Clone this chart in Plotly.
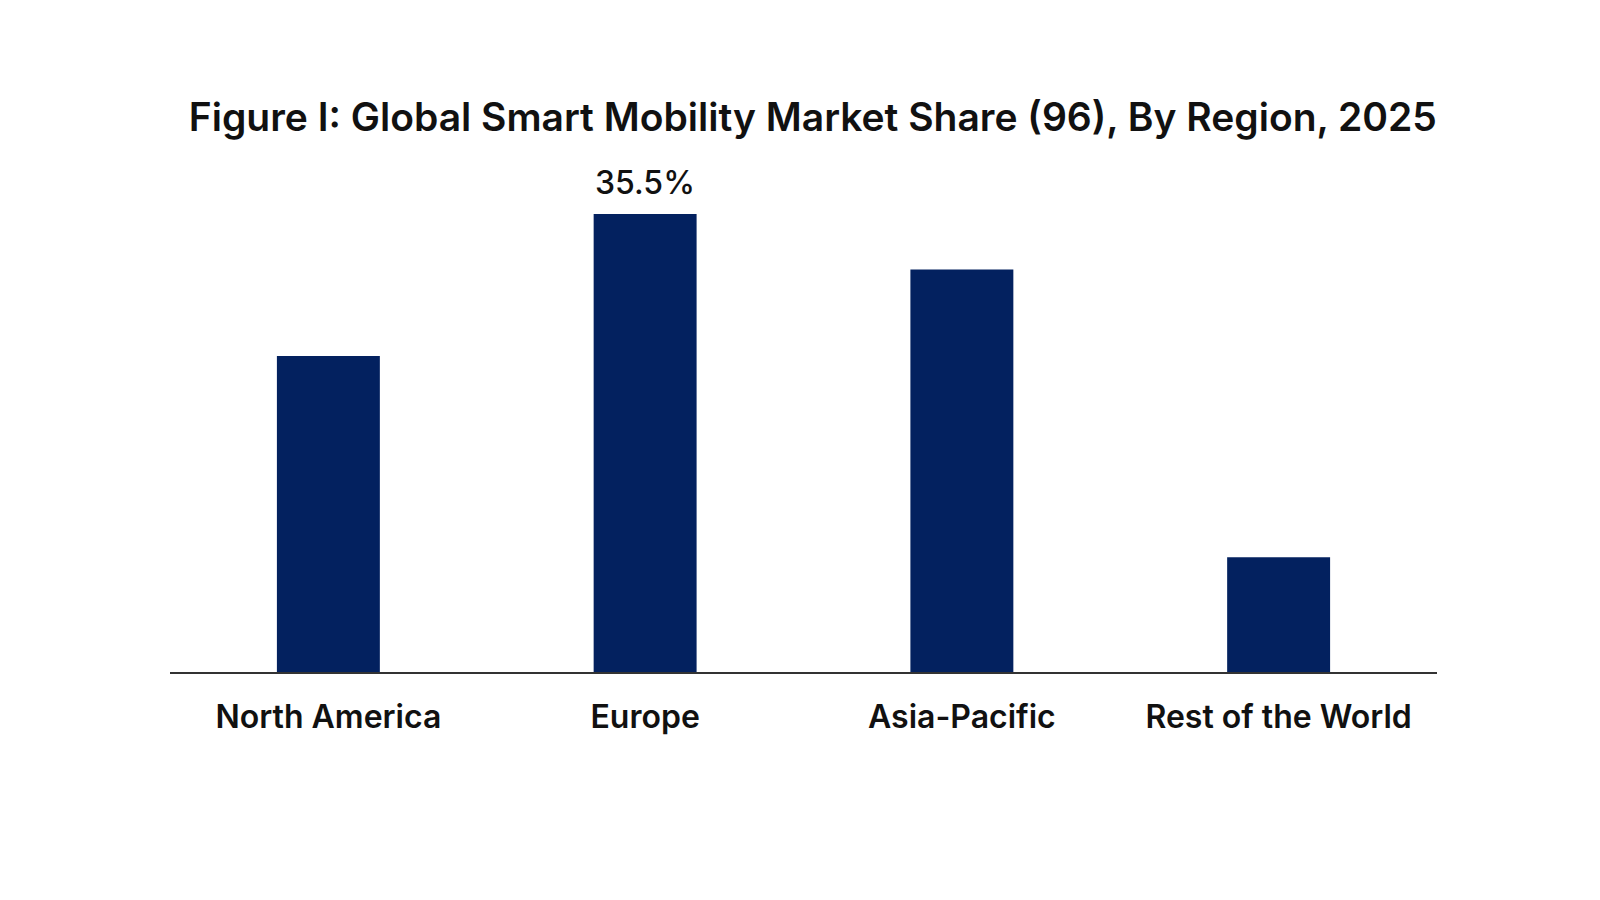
import plotly.graph_objects as go

regions = ['North America', 'Europe', 'Asia-Pacific', 'Rest of the World']
share = [24.5, 35.5, 31.2, 8.9]
labels = ['', '35.5%', '', '']

fig = go.Figure()
fig.add_trace(go.Bar(
        x = regions,
        y = share,
        marker = dict(color = '#03215F', line = dict(width = 0)),
        hoverinfo = 'x+y'
    ))

# only the Europe bar carries a value label
for r, v, t in zip(regions, share, labels):
    if t:
        fig.add_annotation(
            x = r, y = v, text = t,
            showarrow = False,
            yanchor = 'bottom',
            yshift = 10,
            font = dict(size = 32, family = 'Inter', weight = 500, color = '#111111')
        )

fig.update_layout(
    width = 1600,
    height = 900,
    autosize = False,
    paper_bgcolor = 'white',
    plot_bgcolor = 'white',
    margin = dict(l = 162, r = 171, t = 148, b = 236),
    bargap = 0.675,
    showlegend = False,
    font = dict(family = 'Inter', color = '#111111'),
    title = dict(
        text = 'Figure I: Global Smart Mobility Market Share (96), By Region, 2025',
        x = 0.503,
        xanchor = 'center',
        y = 0.878,
        yanchor = 'middle',
        font = dict(size = 39, family = 'Inter', weight = 600, color = '#111111')
    ),
    xaxis = dict(
        showline = True,
        linecolor = '#333333',
        linewidth = 2,
        showgrid = False,
        zeroline = False,
        ticks = '',
        ticklabelstandoff = 16,
        tickfont = dict(size = 32, family = 'Inter', weight = 600, color = '#111111')
    ),
    yaxis = dict(
        range = [0, 40],
        visible = False,
        showgrid = False,
        zeroline = False
    )
)

fig.write_html('out.html')
